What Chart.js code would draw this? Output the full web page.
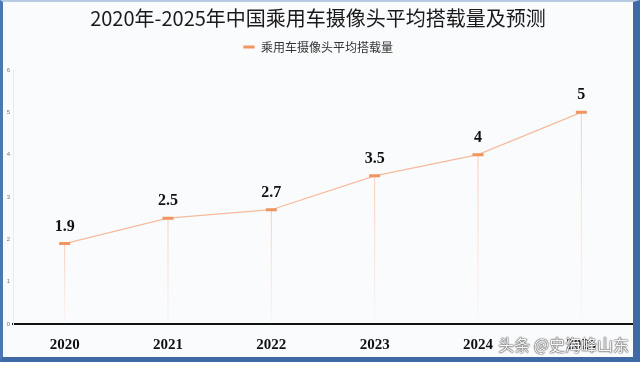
<!DOCTYPE html>
<html>
<head>
<meta charset="utf-8">
<script src="https://cdn.jsdelivr.net/npm/chart.js@4"></script>
<style>
  html, body { margin: 0; padding: 0; background: #ffffff; }
  #frame {
    position: relative;
    width: 640px; height: 362px;
    box-sizing: border-box;
    border-top: 2px solid #b7cbe3;
    border-left: 3px solid #4b78b4;
    border-right: 7px solid #3f6aa6;
    border-bottom: 5px solid #3f6aa6;
    background: #fafbfd;
  }
  #chart { display: block; }
  #mark {
    position: absolute; right: 4px; bottom: 1px;
    font: 16px "Noto Sans CJK SC", sans-serif;
    color: rgba(255,255,255,0.95);
    text-shadow: 0 0 1px #444, 0 0 1px #444, 0 0 2px #666;
  }
</style>
</head>
<body>
<div id="frame">
  <canvas id="chart" width="630" height="355"></canvas>
  <div id="mark">头条 @史海峰山东</div>
</div>
<script>
// 数据
const years = ['2020', '2021', '2022', '2023', '2024', '2025'];
const cameraCount = [1.9, 2.5, 2.7, 3.5, 4, 5];
const yTicks = [0, 1, 2, 3, 4, 5, 6];
const seriesName = '乘用车摄像头平均搭载量';
const chartTitle = '2020年-2025年中国乘用车摄像头平均搭载量及预测';

// 图例下面多留一点空
const legendGap = {
  id: 'legendGap',
  beforeInit(chart) {
    const fit = chart.legend.fit;
    chart.legend.fit = function () {
      fit.bind(chart.legend)();
      this.height += 7;
    };
  }
};

// 每个点往下画一条淡色竖线
const dropLines = {
  id: 'dropLines',
  beforeDatasetsDraw(chart) {
    const ctx = chart.ctx;
    const yScale = chart.scales.y;
    const base = yScale.getPixelForValue(0);
    chart.getDatasetMeta(0).data.forEach((pt) => {
      const g = ctx.createLinearGradient(0, pt.y, 0, base);
      g.addColorStop(0, 'rgba(242,170,130,0.55)');
      g.addColorStop(1, 'rgba(242,170,130,0.05)');
      ctx.save();
      ctx.strokeStyle = g;
      ctx.lineWidth = 1;
      ctx.beginPath();
      ctx.moveTo(pt.x, pt.y);
      ctx.lineTo(pt.x, base);
      ctx.stroke();
      ctx.restore();
    });
  }
};

// 数值标签
const valueLabels = {
  id: 'valueLabels',
  afterDatasetsDraw(chart) {
    const ctx = chart.ctx;
    const meta = chart.getDatasetMeta(0);
    ctx.save();
    ctx.font = 'bold 16px "Liberation Serif", serif';
    ctx.fillStyle = '#111';
    ctx.textAlign = 'center';
    ctx.textBaseline = 'middle';
    meta.data.forEach((pt, i) => {
      ctx.fillText(String(cameraCount[i]), pt.x, pt.y - 17);
    });
    ctx.restore();
  }
};

const ctx = document.getElementById('chart').getContext('2d');
new Chart(ctx, {
  type: 'line',
  data: {
    labels: years,
    datasets: [{
      label: seriesName,
      data: cameraCount,
      borderColor: '#f5bb9c',
      borderWidth: 1.2,
      pointStyle: 'line',
      pointRadius: 5.5,
      pointBorderWidth: 3,
      pointBorderColor: '#ef955f',
      pointBackgroundColor: '#ef955f',
      tension: 0
    }]
  },
  options: {
    responsive: false,
    animation: false,
    layout: { padding: 0, autoPadding: false },
    plugins: {
      title: {
        display: true,
        text: chartTitle,
        color: '#1a1a1a',
        font: { family: '"Noto Sans CJK SC", sans-serif', size: 20, weight: 'normal' },
        padding: { top: 4, bottom: 5 }
      },
      legend: {
        display: true,
        labels: {
          usePointStyle: true,
          pointStyle: 'line',
          boxHeight: 8,
          color: '#333',
          font: { family: '"Noto Sans CJK SC", sans-serif', size: 12 },
          padding: 6
        }
      },
      tooltip: { enabled: false }
    },
    scales: {
      x: {
        offset: true,
        afterFit(scale) {
          scale.height = 33;
          scale.paddingLeft = 0;
          scale.paddingRight = 0;
        },
        grid: { color: 'transparent', drawTicks: false },
        border: { display: true, color: '#111', width: 2 },
        ticks: {
          color: '#111',
          padding: 12,
          font: { family: '"Liberation Serif", serif', size: 15, weight: 'bold' }
        }
      },
      y: {
        min: yTicks[0],
        max: yTicks[yTicks.length - 1],
        afterBuildTicks(scale) {
          scale.ticks = yTicks.map((v) => ({ value: v }));
        },
        afterFit(scale) { scale.width = 10; },
        grid: { color: 'transparent', drawTicks: false },
        border: { display: true, color: '#e8eaf0', width: 1 },
        ticks: {
          color: '#777',
          padding: 3,
          font: { family: 'Arial, sans-serif', size: 6 }
        }
      }
    }
  },
  plugins: [legendGap, dropLines, valueLabels]
});
</script>
</body>
</html>
